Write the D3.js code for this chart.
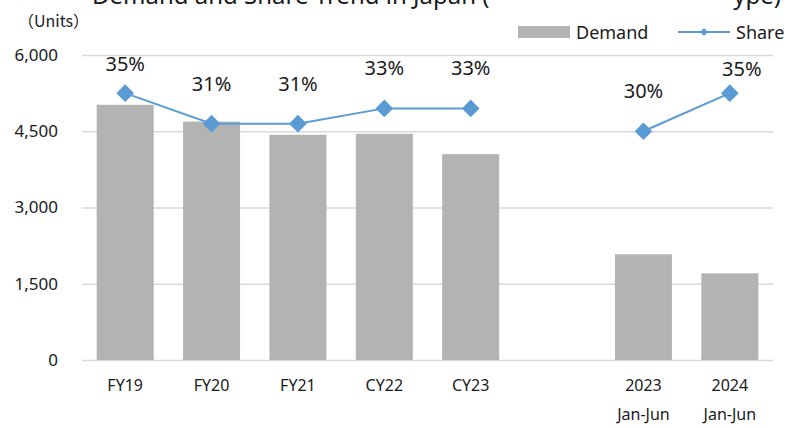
<!DOCTYPE html>
<html>
  <head>
    <meta charset="utf-8" />
    <script src="https://cdn.jsdelivr.net/npm/d3@7"></script>
    <style>
      body {
        margin: 0;
        background: #fff;
        font-family: "Noto Sans", "Open Sans", sans-serif;
      }
      svg text {
        fill: #1a1a1a;
      }
    </style>
  </head>
  <body>
    <svg id="chart" width="790" height="428"></svg>
  </body>
  <script>
    // categories (second line only for the half-year columns)
    var catLine1 = ["FY19", "FY20", "FY21", "CY22", "CY23", "", "2023", "2024"];
    var catLine2 = ["", "", "", "", "", "", "Jan-Jun", "Jan-Jun"];
    // demand in units, share in %
    var demand = [5020, 4690, 4430, 4450, 4050, null, 2080, 1705];
    var share = [35, 31, 31, 33, 33, null, 30, 35];
    var yTicks = [0, 1500, 3000, 4500, 6000];

    var svg = d3.select("#chart");
    var plotLeft = 82,
      plotRight = 773,
      plotTop = 55,
      plotBottom = 360;

    var idx = d3.range(catLine1.length);

    var x = d3
      .scaleBand()
      .domain(idx)
      .range([plotLeft, plotRight])
      .paddingInner(0.34)
      .paddingOuter(0.17);

    var y = d3.scaleLinear().domain([0, 6000]).range([plotBottom, plotTop]);
    // hidden secondary axis for share
    var y2 = d3.scaleLinear().domain([0, 40]).range([plotBottom, plotTop]);

    // title (top is cut off in the original)
    svg
      .append("text")
      .attr("x", 92)
      .attr("y", 4)
      .style("font-size", "24px")
      .text("Demand and Share Trend in Japan (");
    svg
      .append("text")
      .attr("x", 781)
      .attr("y", 4)
      .attr("text-anchor", "end")
      .style("font-size", "24px")
      .text("ype)");

    svg
      .append("text")
      .attr("x", 18)
      .attr("y", 27)
      .style("font-size", "16px")
      .style("font-family", "'Noto Sans CJK JP', 'Noto Sans', sans-serif")
      .text("（Units）");

    // y axis + gridlines
    var yAxis = svg
      .append("g")
      .attr("transform", "translate(" + plotLeft + ",0)")
      .call(
        d3
          .axisLeft(y)
          .tickValues(yTicks)
          .tickSize(-(plotRight - plotLeft))
          .tickPadding(24)
          .tickFormat(d3.format(","))
      );
    yAxis.attr("font-family", null).attr("font-size", null);
    yAxis.select(".domain").remove();
    yAxis
      .selectAll(".tick line")
      .attr("stroke", "#d9d9d9")
      .attr("stroke-width", 1.5);
    yAxis
      .selectAll(".tick text")
      .style("font-size", "17px")
      .attr("fill", "#1a1a1a");

    // bars
    svg
      .append("g")
      .selectAll("rect")
      .data(
        idx.filter(function (i) {
          return demand[i] != null;
        })
      )
      .enter()
      .append("rect")
      .attr("x", function (i) {
        return x(i);
      })
      .attr("width", x.bandwidth())
      .attr("y", function (i) {
        return y(demand[i]);
      })
      .attr("height", function (i) {
        return y(0) - y(demand[i]);
      })
      .attr("fill", "#b3b3b3");

    // x labels
    var xAxis = svg
      .append("g")
      .attr("transform", "translate(0," + plotBottom + ")")
      .call(d3.axisBottom(x).tickSize(0).tickPadding(0));
    xAxis.attr("font-family", null).attr("font-size", null);
    xAxis.select(".domain").remove();
    xAxis.selectAll(".tick text").remove();
    xAxis
      .selectAll(".tick")
      .append("text")
      .attr("text-anchor", "middle")
      .style("font-size", "16px")
      .each(function (i) {
        var t = d3.select(this);
        t.append("tspan").attr("x", 0).attr("y", 31).text(catLine1[i]);
        if (catLine2[i]) {
          t.append("tspan").attr("x", 0).attr("y", 60).text(catLine2[i]);
        }
      });

    // share line
    var cx = function (i) {
      return x(i) + x.bandwidth() / 2;
    };
    var line = d3
      .line()
      .defined(function (i) {
        return share[i] != null;
      })
      .x(cx)
      .y(function (i) {
        return y2(share[i]);
      });

    svg
      .append("path")
      .datum(idx)
      .attr("d", line)
      .attr("fill", "none")
      .attr("stroke", "#5b9bd5")
      .attr("stroke-width", 2);

    var pts = idx.filter(function (i) {
      return share[i] != null;
    });
    var diamond = d3.symbol().type(d3.symbolDiamond2).size(200);

    svg
      .append("g")
      .selectAll("path")
      .data(pts)
      .enter()
      .append("path")
      .attr("d", diamond)
      .attr("transform", function (i) {
        return "translate(" + cx(i) + "," + y2(share[i]) + ")";
      })
      .attr("fill", "#5b9bd5");

    // data labels (placed by hand in the original)
    var labelDx = [0, 0, 0, 0, 0, 0, 0, 12];
    var labelDy = [-22, -33, -33, -33, -33, 0, -33, -17];
    svg
      .append("g")
      .selectAll("text")
      .data(pts)
      .enter()
      .append("text")
      .attr("x", function (i) {
        return cx(i) + labelDx[i];
      })
      .attr("y", function (i) {
        return y2(share[i]) + labelDy[i];
      })
      .attr("text-anchor", "middle")
      .style("font-size", "20px")
      .text(function (i) {
        return share[i] + "%";
      });

    // legend
    var lg = svg.append("g");
    lg.append("rect")
      .attr("x", 518)
      .attr("y", 26)
      .attr("width", 52)
      .attr("height", 12)
      .attr("fill", "#b3b3b3");
    lg.append("text")
      .attr("x", 576)
      .attr("y", 39)
      .style("font-size", "18px")
      .text("Demand");
    lg.append("line")
      .attr("x1", 678)
      .attr("x2", 730)
      .attr("y1", 32)
      .attr("y2", 32)
      .attr("stroke", "#5b9bd5")
      .attr("stroke-width", 2);
    lg.append("path")
      .attr("d", d3.symbol().type(d3.symbolDiamond2).size(40))
      .attr("transform", "translate(704,32)")
      .attr("fill", "#5b9bd5");
    lg.append("text")
      .attr("x", 736)
      .attr("y", 39)
      .style("font-size", "18px")
      .text("Share");
  </script>
</html>
